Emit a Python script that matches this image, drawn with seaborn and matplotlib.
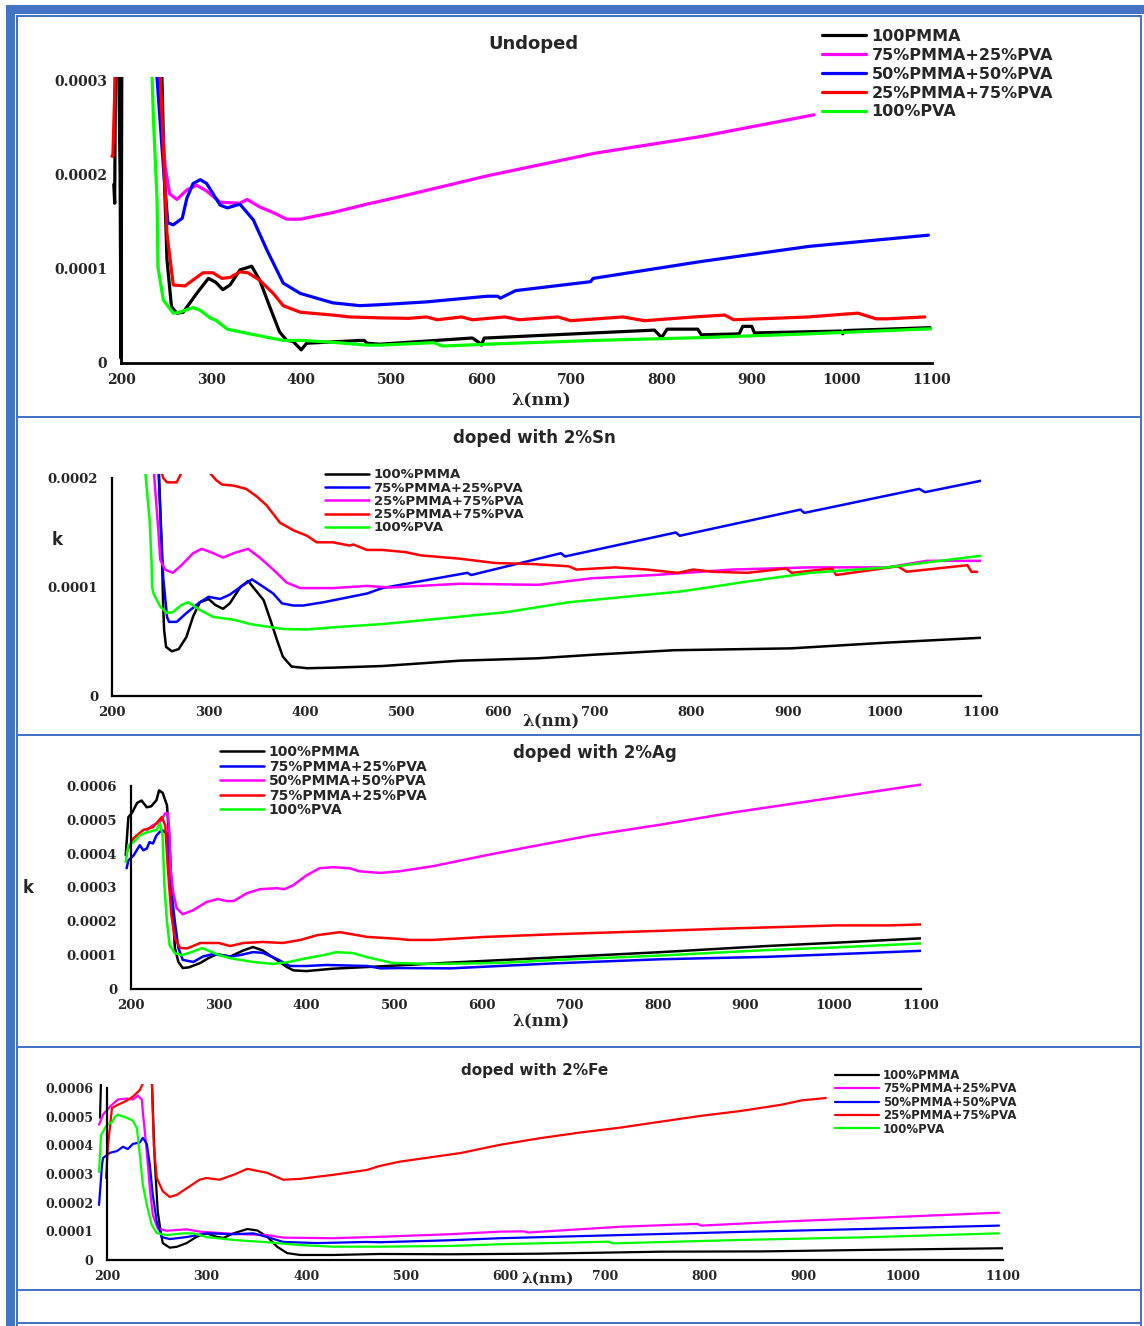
import matplotlib
matplotlib.use('Agg')
import matplotlib.pyplot as plt
import seaborn as sns
from matplotlib.patches import Rectangle
from matplotlib.ticker import FuncFormatter

sns.set_style('white')
plt.rcParams['font.family'] = ['DejaVu Sans']

# k values below are in units of 1e-4, wavelengths in nm
# --- Undoped ---
p1_pmma_wl = [192, 193, 194, 197, 199, 200, 201, 240, 245, 248, 251, 256, 262, 269, 284, 297, 305, 313, 321, 332,
              345, 354, 365, 376, 384, 391, 400, 406, 465, 470, 473, 487, 590, 597, 600, 603, 792, 797, 800, 806,
              840, 844, 886, 890, 900, 903, 999, 1001, 1003, 1098]
p1_pmma_k = [1.9, 1.7, 3.5, 3.5, 2.0, 0.05, 3.5, 3.5, 3.2, 2.0, 1.1, 0.60, 0.53, 0.54, 0.74, 0.90, 0.86, 0.78, 0.83, 0.99,
             1.03, 0.88, 0.60, 0.33, 0.24, 0.23, 0.14, 0.21, 0.24, 0.24, 0.21, 0.20, 0.266, 0.22, 0.19, 0.265, 0.35, 0.30, 0.27, 0.36,
             0.36, 0.30, 0.31, 0.39, 0.39, 0.32, 0.34, 0.31, 0.345, 0.376]
p1_m75_wl = [240, 249, 254, 262, 273, 284, 295, 310, 332, 340, 354, 369, 384, 399, 435, 473, 487, 510, 606, 725, 844, 969]
p1_m75_k = [3.3, 2.09, 1.80, 1.74, 1.84, 1.89, 1.83, 1.71, 1.70, 1.74, 1.66, 1.60, 1.53, 1.53, 1.60, 1.69, 1.72, 1.77,
            1.99, 2.23, 2.41, 2.64]
p1_m50_wl = [238, 247, 252, 258, 268, 273, 280, 288, 295, 310, 318, 332, 347, 362, 380, 399, 435, 465, 487, 539, 606,
             618, 621, 638, 721, 724, 844, 963, 1096]
p1_m50_k = [3.3, 2.09, 1.49, 1.47, 1.54, 1.75, 1.91, 1.95, 1.91, 1.68, 1.65, 1.69, 1.52, 1.20, 0.85, 0.74, 0.64, 0.61,
            0.62, 0.65, 0.71, 0.71, 0.69, 0.77, 0.865, 0.90, 1.08, 1.24, 1.36]
p1_m25_wl = [190, 191, 194, 243, 251, 258, 271, 291, 302, 312, 321, 332, 341, 354, 369, 380, 399, 435, 454, 487, 519,
             539, 551, 578, 590, 626, 642, 685, 699, 757, 781, 836, 870, 880, 923, 963, 1003, 1018, 1038, 1050, 1092]
p1_m25_k = [2.2, 2.2, 3.2, 3.2, 1.38, 0.83, 0.82, 0.96, 0.96, 0.90, 0.91, 0.97, 0.96, 0.88, 0.74, 0.61, 0.54, 0.51, 0.49,
            0.48, 0.475, 0.49, 0.46, 0.49, 0.46, 0.49, 0.46, 0.49, 0.45, 0.49, 0.45, 0.49, 0.51, 0.46, 0.475, 0.49, 0.52,
            0.53, 0.47, 0.47, 0.49]
p1_pva_wl = [234, 236, 240, 241, 247, 258, 265, 280, 288, 299, 306, 318, 343, 380, 402, 435, 473, 487, 547, 557, 606,
             725, 844, 963, 1101]
p1_pva_k = [3.2, 2.6, 1.73, 1.02, 0.67, 0.53, 0.54, 0.59, 0.56, 0.48, 0.45, 0.36, 0.31, 0.24, 0.24, 0.22, 0.19, 0.19,
            0.216, 0.18, 0.20, 0.24, 0.27, 0.31, 0.365]

# --- doped with 2%Sn ---
p2_pmma_wl = [248, 252, 253, 254, 256, 262, 269, 277, 284, 291, 300, 307, 315, 322, 333, 341, 346, 357, 364, 371, 377,
              386, 402, 429, 480, 560, 641, 701, 782, 903, 1003, 1102]
p2_pmma_k = [2.2, 1.2, 0.82, 0.605, 0.45, 0.41, 0.43, 0.54, 0.73, 0.86, 0.89, 0.835, 0.80, 0.85, 1.0, 1.055, 1.0, 0.88,
             0.70, 0.51, 0.36, 0.27, 0.255, 0.26, 0.275, 0.324, 0.346, 0.38, 0.42, 0.437, 0.49, 0.535]
p2_m75_wl = [248, 253, 257, 259, 267, 277, 291, 300, 312, 322, 333, 345, 357, 367, 376, 388, 398, 419, 464, 480, 568,
             572, 665, 669, 784, 788, 913, 917, 1036, 1042, 1103]
p2_m75_k = [2.1, 1.09, 0.725, 0.68, 0.68, 0.76, 0.86, 0.91, 0.89, 0.93, 1.0, 1.07, 1.0, 0.94, 0.85, 0.83, 0.83, 0.86,
            0.94, 0.99, 1.13, 1.11, 1.31, 1.28, 1.50, 1.47, 1.71, 1.68, 1.90, 1.87, 1.98]
p2_m25a_wl = [243, 248, 250, 255, 263, 272, 284, 293, 305, 315, 326, 341, 353, 367, 381, 395, 429, 464, 488, 560, 641,
              697, 762, 842, 923, 1003, 1044, 1102]
p2_m25a_k = [2.1, 1.52, 1.25, 1.16, 1.13, 1.20, 1.31, 1.35, 1.31, 1.27, 1.31, 1.35, 1.27, 1.16, 1.04, 0.99, 0.99, 1.01,
             0.995, 1.03, 1.02, 1.08, 1.11, 1.16, 1.18, 1.18, 1.24, 1.24]
p2_m25b_wl = [250, 253, 257, 267, 272, 301, 308, 314, 326, 339, 350, 360, 374, 388, 402, 412, 429, 446, 450, 464, 480,
              504, 520, 560, 597, 637, 673, 681, 721, 754, 786, 802, 822, 858, 898, 904, 946, 950, 1014, 1023, 1086,
              1090, 1096]
p2_m25b_k = [2.1, 2.0, 1.96, 1.96, 2.05, 2.05, 1.98, 1.94, 1.93, 1.90, 1.83, 1.75, 1.59, 1.52, 1.47, 1.41, 1.41, 1.38,
             1.39, 1.34, 1.34, 1.32, 1.29, 1.26, 1.22, 1.21, 1.19, 1.16, 1.18, 1.16, 1.13, 1.16, 1.14, 1.13, 1.17, 1.13,
             1.17, 1.11, 1.19, 1.14, 1.20, 1.14, 1.14]
p2_pva_wl = [234, 239, 241, 241.5, 243, 250, 257, 263, 272, 279, 291, 305, 326, 343, 377, 402, 429, 480, 528, 609, 673,
             790, 858, 923, 1003, 1103]
p2_pva_k = [2.1, 1.61, 1.22, 1.0, 0.94, 0.82, 0.76, 0.77, 0.835, 0.86, 0.79, 0.725, 0.70, 0.66, 0.615, 0.61, 0.63,
            0.66, 0.70, 0.77, 0.86, 0.96, 1.05, 1.13, 1.18, 1.29]

# --- doped with 2%Ag ---
p3_pmma_wl = [194, 197, 201, 207, 212, 218, 223, 229, 232, 236, 241, 244, 247, 250, 254, 259, 266, 279, 288, 298, 313,
              328, 339, 350, 366, 377, 385, 400, 430, 469, 506, 564, 684, 804, 924, 1004, 1102]
p3_pmma_k = [3.95, 5.08, 5.2, 5.5, 5.57, 5.37, 5.4, 5.58, 5.87, 5.8, 5.43, 4.25, 2.57, 1.21, 0.80, 0.62, 0.64, 0.77,
             0.91, 1.03, 0.96, 1.14, 1.24, 1.14, 0.86, 0.66, 0.55, 0.53, 0.60, 0.65, 0.70, 0.78, 0.935, 1.09, 1.27, 1.37,
             1.50]
p3_m75a_wl = [195, 197, 203, 210, 214, 218, 221, 225, 229, 235, 241, 244, 250, 254, 259, 271, 282, 293, 313, 324, 339,
              350, 366, 381, 400, 423, 469, 484, 506, 564, 684, 804, 924, 1004, 1102]
p3_m75a_k = [3.57, 3.8, 3.95, 4.25, 4.1, 4.15, 4.34, 4.3, 4.54, 4.7, 4.6, 3.36, 1.98, 1.21, 0.86, 0.80, 0.96, 1.03,
             0.96, 1.00, 1.09, 1.07, 0.89, 0.68, 0.68, 0.71, 0.68, 0.61, 0.62, 0.61, 0.76, 0.88, 0.95, 1.03, 1.13]
p3_m50_wl = [218, 225, 233, 239, 242, 244, 245, 248, 252, 259, 271, 286, 299, 309, 317, 332, 347, 366, 375, 385, 400,
             415, 430, 449, 460, 484, 506, 544, 604, 644, 724, 804, 884, 1004, 1102]
p3_m50_k = [4.7, 4.84, 4.93, 5.19, 5.2, 4.54, 3.57, 2.87, 2.39, 2.21, 2.33, 2.57, 2.66, 2.6, 2.6, 2.83, 2.95, 2.98,
            2.95, 3.07, 3.36, 3.57, 3.6, 3.57, 3.48, 3.43, 3.48, 3.63, 3.95, 4.15, 4.54, 4.86, 5.21, 5.67, 6.05]
p3_m75b_wl = [195, 203, 214, 225, 235, 239, 242, 246, 250, 256, 264, 279, 300, 313, 328, 350, 373, 393, 412, 438, 469,
              506, 516, 544, 604, 684, 804, 884, 1004, 1064, 1102]
p3_m75b_k = [4.04, 4.46, 4.7, 4.78, 5.08, 4.84, 3.57, 2.18, 1.5, 1.21, 1.2, 1.36, 1.36, 1.27, 1.36, 1.39, 1.36, 1.45,
             1.59, 1.68, 1.54, 1.48, 1.45, 1.45, 1.54, 1.62, 1.72, 1.79, 1.88, 1.88, 1.91]
p3_pva_wl = [194, 197, 203, 210, 218, 229, 233, 236, 238, 241, 244, 250, 258, 269, 281, 301, 313, 339, 362, 380, 400,
             419, 434, 453, 469, 498, 544, 620, 684, 804, 924, 1004, 1102]
p3_pva_k = [3.75, 4.25, 4.34, 4.54, 4.63, 4.7, 4.9, 4.54, 3.07, 1.98, 1.3, 1.06, 1.0, 1.09, 1.21, 1.0, 0.91, 0.80, 0.74,
            0.80, 0.91, 1.0, 1.09, 1.06, 0.94, 0.77, 0.74, 0.77, 0.86, 0.99, 1.15, 1.23, 1.35]

# --- doped with 2%Fe ---
p4_pmma_wl = [193, 194, 245, 248, 251, 254, 256, 263, 270, 280, 290, 300, 310, 317, 327, 341, 351, 361, 371, 381, 394,
              427, 474, 545, 635, 757, 858, 959, 1100]
p4_pmma_k = [4.96, 6.3, 6.3, 3.42, 1.68, 0.98, 0.59, 0.43, 0.46, 0.59, 0.81, 0.93, 0.81, 0.77, 0.93, 1.08, 1.03, 0.81,
             0.46, 0.24, 0.175, 0.175, 0.21, 0.20, 0.22, 0.29, 0.30, 0.35, 0.41]
p4_m75_wl = [192, 196, 203, 211, 220, 226, 231, 235, 236, 240, 243, 246, 251, 260, 280, 293, 327, 361, 377, 427, 474,
             545, 595, 619, 623, 716, 793, 797, 878, 999, 1096]
p4_m75_k = [4.72, 5.07, 5.35, 5.6, 5.63, 5.6, 5.73, 5.6, 5.17, 3.77, 2.5, 1.57, 1.1, 1.02, 1.07, 0.99, 0.91, 0.87, 0.78,
            0.76, 0.81, 0.90, 0.99, 1.0, 0.96, 1.16, 1.26, 1.20, 1.34, 1.51, 1.65]
p4_m50_wl = [192, 195, 196, 203, 210, 216, 221, 226, 233, 236, 240, 243, 246, 250, 255, 263, 280, 300, 327, 347, 361,
             377, 411, 461, 474, 545, 595, 716, 837, 959, 1096]
p4_m50_k = [1.92, 3.32, 3.56, 3.74, 3.8, 3.95, 3.87, 4.05, 4.1, 4.26, 4.05, 3.32, 2.27, 1.33, 0.80, 0.73, 0.80, 0.93,
            0.90, 0.93, 0.80, 0.63, 0.59, 0.63, 0.62, 0.69, 0.76, 0.87, 0.98, 1.08, 1.20]
p4_m25_wl = [199, 201, 205, 210, 220, 226, 233, 238, 245, 247, 250, 256, 263, 270, 280, 293, 300, 313, 327, 341, 361,
             377, 394, 427, 461, 474, 494, 555, 595, 635, 676, 716, 757, 797, 837, 878, 898, 922]
p4_m25_k = [2.86, 4.0, 5.3, 5.4, 5.56, 5.7, 5.93, 6.3, 6.3, 4.0, 2.86, 2.4, 2.2, 2.27, 2.5, 2.8, 2.86, 2.8, 2.97, 3.18,
            3.04, 2.8, 2.83, 2.97, 3.14, 3.28, 3.43, 3.73, 4.02, 4.25, 4.45, 4.62, 4.83, 5.03, 5.2, 5.42, 5.57, 5.65]
p4_pva_wl = [192, 194, 200, 205, 208, 211, 220, 226, 230, 233, 236, 240, 245, 250, 260, 277, 287, 300, 327, 361, 394,
             427, 474, 545, 595, 704, 708, 837, 959, 1096]
p4_pva_k = [3.07, 4.36, 4.72, 4.8, 5.0, 5.07, 4.96, 4.86, 4.6, 3.67, 2.62, 1.92, 1.22, 0.94, 0.87, 0.93, 0.93, 0.80,
            0.70, 0.62, 0.52, 0.465, 0.465, 0.49, 0.55, 0.64, 0.58, 0.70, 0.79, 0.93]

BLACK, MAG, BLUE, RED, GREEN = '#000000', '#FF00FF', '#0000FF', '#FF0000', '#00FF00'
FRAME = '#4472C4'
W, H = 1144, 1326

fig = plt.figure(figsize=(W / 100, H / 100), dpi=100)


def px_box(x0, y0, x1, y1):
    return [x0 / W, 1 - y1 / H, (x1 - x0) / W, (y1 - y0) / H]


def frame_rect(x0, y0, x1, y1):
    fig.add_artist(Rectangle((x0 / W, 1 - y1 / H), (x1 - x0) / W, (y1 - y0) / H,
                             transform=fig.transFigure, color=FRAME, lw=0))


def fig_text(x, y, s, **kw):
    fig.text(x / W, 1 - y / H, s, ha='center', va='center', fontweight='bold', **kw)


def panel(box, series, ymax, lw, tick_fs, leg_xy, leg_fs, leg_space, spine_w=1.6):
    ax = fig.add_axes(px_box(*box))
    h_px = box[3] - box[1]
    handles = []
    for wl, k, color, label in series:
        sns.lineplot(x=wl, y=[v * 1e-4 for v in k], color=color, lw=lw, sort=False,
                     estimator=None, ax=ax, legend=False)
        line = ax.lines[-1]
        line.set_label(label)
        clip = Rectangle((-0.03, 0), 1.03, 1 + 4 / h_px, transform=ax.transAxes, fill=False, visible=False)
        ax.add_artist(clip)
        line.set_clip_path(clip)
        handles.append(line)
    ax.set_xlim(200, 1100)
    ax.set_ylim(0, ymax)
    ax.set_xticks(range(200, 1101, 100))
    ax.set_yticks([i * 1e-4 for i in range(int(round(ymax * 1e4)) + 1)])
    ax.yaxis.set_major_formatter(FuncFormatter(lambda v, p: '0' if abs(v) < 1e-12 else f'{v:.4f}'))
    for side in ['top', 'right']:
        ax.spines[side].set_visible(False)
    for side in ['left', 'bottom']:
        ax.spines[side].set_linewidth(spine_w)
        ax.spines[side].set_color('black')
    ax.tick_params(direction='out', length=4, width=spine_w, labelsize=tick_fs)
    ax.tick_params(axis='x', pad=3)
    ax.tick_params(axis='y', pad=6)
    for t in ax.get_xticklabels() + ax.get_yticklabels():
        t.set_family('DejaVu Serif')
        t.set_fontweight('bold')
    ax.set_xlabel('')
    ax.set_ylabel('')
    ax.patch.set_alpha(0)
    em = leg_fs * 100 / 72
    lx, ly = leg_xy
    ax.legend(handles=handles, loc='upper left', bbox_to_anchor=(lx / W, 1 - (ly - em * 0.5) / H),
              bbox_transform=fig.transFigure, frameon=False, borderpad=0, borderaxespad=0,
              handlelength=44 / em, handletextpad=0.35, labelspacing=leg_space,
              prop={'weight': 'bold', 'size': leg_fs})
    return ax


# page frame
frame_rect(6, 5, 15, 1326)
frame_rect(6, 5, 1144, 14)
frame_rect(16, 15, 18, 1326)
frame_rect(16, 15, 1142, 17)
frame_rect(1140, 15, 1142, 1326)
for yy in [416, 734, 1046, 1289, 1322]:
    frame_rect(16, yy, 1142, yy + 2)

# panel 1
panel((121, 81, 932, 363),
      [(p1_pmma_wl, p1_pmma_k, BLACK, '100PMMA'),
       (p1_m75_wl, p1_m75_k, MAG, '75%PMMA+25%PVA'),
       (p1_m50_wl, p1_m50_k, BLUE, '50%PMMA+50%PVA'),
       (p1_m25_wl, p1_m25_k, RED, '25%PMMA+75%PVA'),
       (p1_pva_wl, p1_pva_k, GREEN, '100%PVA')],
      3e-4, 2.3, 10, (822, 37), 11.5, 0.24, spine_w=2.0)
fig_text(533, 44, 'Undoped', fontsize=13)
fig_text(541, 401, 'λ(nm)', fontsize=12.5, family='DejaVu Serif')

# panel 2
panel((112, 478, 981, 696),
      [(p2_pmma_wl, p2_pmma_k, BLACK, '100%PMMA'),
       (p2_m75_wl, p2_m75_k, BLUE, '75%PMMA+25%PVA'),
       (p2_m25a_wl, p2_m25a_k, MAG, '25%PMMA+75%PVA'),
       (p2_m25b_wl, p2_m25b_k, RED, '25%PMMA+75%PVA'),
       (p2_pva_wl, p2_pva_k, GREEN, '100%PVA')],
      2e-4, 1.8, 9.5, (325, 475), 9.5, 0.02)
fig_text(534, 438, 'doped with 2%Sn', fontsize=12)
fig_text(551, 722, 'λ(nm)', fontsize=12, family='DejaVu Serif')
fig_text(57, 540, 'k', fontsize=12)

# panel 3
panel((131, 786, 921, 989),
      [(p3_pmma_wl, p3_pmma_k, BLACK, '100%PMMA'),
       (p3_m75a_wl, p3_m75a_k, BLUE, '75%PMMA+25%PVA'),
       (p3_m50_wl, p3_m50_k, MAG, '50%PMMA+50%PVA'),
       (p3_m75b_wl, p3_m75b_k, RED, '75%PMMA+25%PVA'),
       (p3_pva_wl, p3_pva_k, GREEN, '100%PVA')],
      6e-4, 1.8, 9.5, (220, 752), 10, 0.04)
fig_text(595, 753, 'doped with 2%Ag', fontsize=12)
fig_text(541, 1022, 'λ(nm)', fontsize=12, family='DejaVu Serif')
fig_text(28, 888, 'k', fontsize=12)

# panel 4
panel((107, 1088, 1003, 1260),
      [(p4_pmma_wl, p4_pmma_k, BLACK, '100%PMMA'),
       (p4_m75_wl, p4_m75_k, MAG, '75%PMMA+25%PVA'),
       (p4_m50_wl, p4_m50_k, BLUE, '50%PMMA+50%PVA'),
       (p4_m25_wl, p4_m25_k, RED, '25%PMMA+75%PVA'),
       (p4_pva_wl, p4_pva_k, GREEN, '100%PVA')],
      6e-4, 1.6, 9, (835, 1075), 8.5, 0.03)
fig_text(535, 1070, 'doped with 2%Fe', fontsize=11)
fig_text(548, 1279, 'λ(nm)', fontsize=11, family='DejaVu Serif')

fig.savefig('out.png', dpi=100)
